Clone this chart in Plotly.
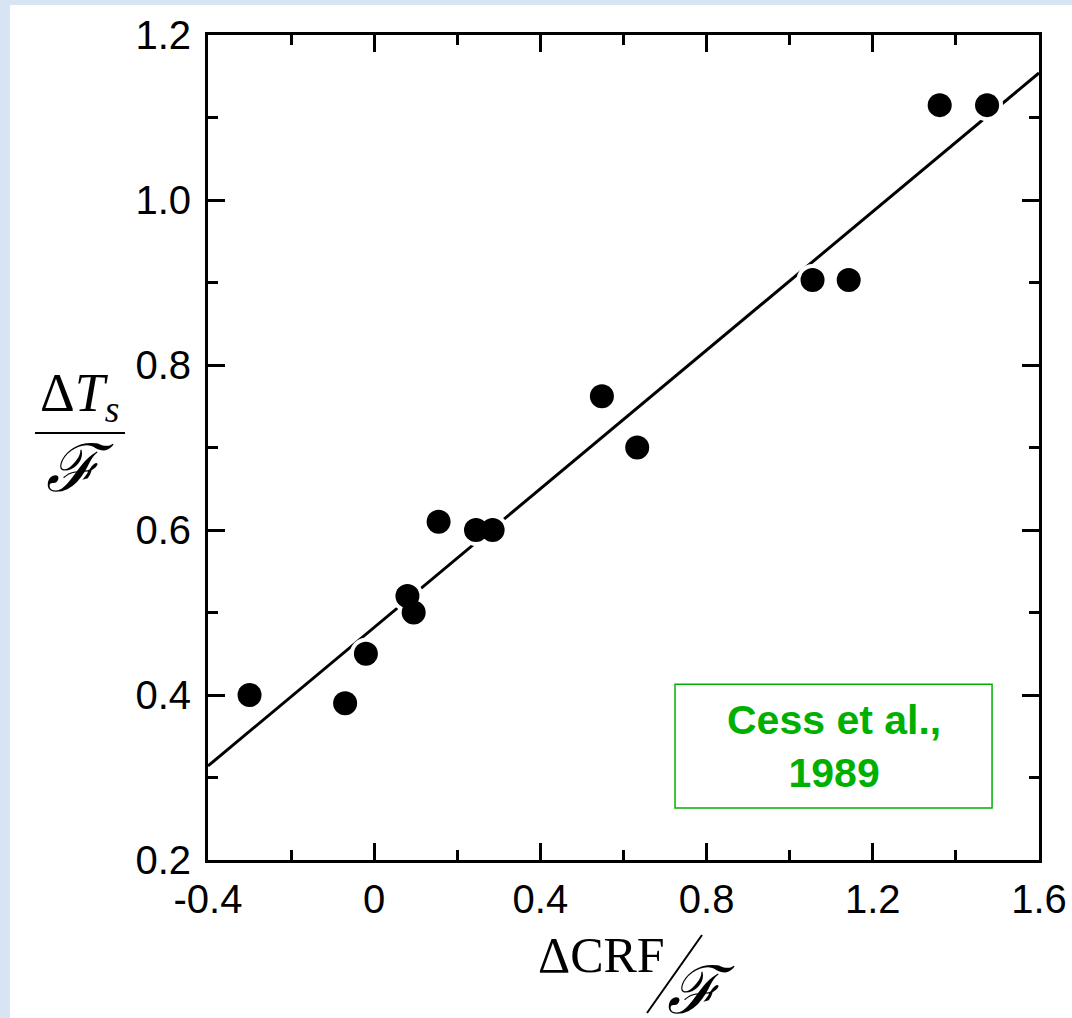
import plotly.graph_objects as go

# ---- data ----
crf_x = [-0.30, -0.07, -0.02, 0.08, 0.095, 0.155, 0.245, 0.285, 0.548, 0.633, 1.055, 1.142, 1.361, 1.475]
dts_y = [0.40, 0.39, 0.45, 0.52, 0.50, 0.61, 0.60, 0.60, 0.762, 0.70, 0.903, 0.903, 1.115, 1.115]

fit_x = [-0.4, 1.6]
fit_y = [0.314, 1.154]

x_ticks = [-0.4, 0, 0.4, 0.8, 1.2, 1.6]
x_ticktext = ["-0.4", "0", "0.4", "0.8", "1.2", "1.6"]
x_minor = [-0.2, 0.2, 0.6, 1.0, 1.4]
y_ticks = [0.2, 0.4, 0.6, 0.8, 1.0, 1.2]
y_ticktext = ["0.2", "0.4", "0.6", "0.8", "1.0", "1.2"]
y_minor = [0.3, 0.5, 0.7, 0.9, 1.1]

source_text = "Cess et al.,<br>1989"

# ---- layout geometry (pixels) ----
W, H = 1072, 1018
L, R, T, B = 208, 33, 35, 158
PW, PH = W - L - R, H - T - B


def px(x):
    return (x - L) / PW


def py(y):
    return (H - B - y) / PH


fig = go.Figure()

fig.add_trace(go.Scatter(x=fit_x, y=fit_y, mode="lines",
                         line=dict(color="black", width=3), hoverinfo="skip", showlegend=False))
fig.add_trace(go.Scatter(x=crf_x, y=dts_y, mode="markers",
                         marker=dict(color="white", size=32, line=dict(width=0)),
                         hoverinfo="skip", showlegend=False))
fig.add_trace(go.Scatter(x=crf_x, y=dts_y, mode="markers",
                         marker=dict(color="black", size=24, line=dict(width=0)),
                         showlegend=False))

tickfont = dict(family="Liberation Sans, Arial, sans-serif", size=40, color="black")
axis_common = dict(showgrid=False, zeroline=False, showline=True, linecolor="black", linewidth=3,
                   mirror="ticks", ticks="inside", ticklen=17, tickwidth=2.5, tickcolor="black",
                   tickfont=tickfont)

fig.update_xaxes(range=[-0.4, 1.6], tickmode="array", tickvals=x_ticks, ticktext=x_ticktext,
                 minor=dict(tickmode="array", tickvals=x_minor, ticks="inside", ticklen=10,
                            tickwidth=2.5, tickcolor="black", showgrid=False),
                 ticklabelstandoff=2, **axis_common)
fig.update_yaxes(range=[0.2, 1.2], tickmode="array", tickvals=y_ticks, ticktext=y_ticktext,
                 minor=dict(tickmode="array", tickvals=y_minor, ticks="inside", ticklen=10,
                            tickwidth=2.5, tickcolor="black", showgrid=False),
                 ticklabelstandoff=6, **axis_common)

shapes = [
    # white page over light-blue backdrop
    dict(type="rect", xref="paper", yref="paper", x0=px(10), x1=px(W + 5), y0=py(H + 5), y1=py(5),
         fillcolor="white", line=dict(width=0), layer="below"),
    # source box
    dict(type="rect", xref="x", yref="y", x0=0.724, x1=1.487, y0=0.263, y1=0.413,
         line=dict(color="#00b000", width=1.5), fillcolor="white"),
    # y-title fraction bar
    dict(type="line", xref="paper", yref="paper", x0=px(35), x1=px(125), y0=py(433), y1=py(433),
         line=dict(color="black", width=2)),
    # x-title slash
    dict(type="line", xref="paper", yref="paper", x0=px(647), x1=px(702), y0=py(1013), y1=py(935),
         line=dict(color="black", width=2)),
]

serif = "Liberation Serif, Times New Roman, DejaVu Serif, serif"
annotations = [
    dict(text=source_text, xref="x", yref="y", x=(0.724 + 1.487) / 2, y=(0.263 + 0.413) / 2,
         showarrow=False, font=dict(family="Liberation Sans, Arial, sans-serif", size=41,
                                    color="#00b000", weight="bold"), align="center"),
    dict(text="Δ<i>T</i><sub><i>s</i></sub>", xref="paper", yref="paper", x=px(38), y=py(396),
         xanchor="left", yanchor="middle",
         showarrow=False, font=dict(family=serif, size=54, color="black")),
    dict(text="<i>ℱ</i>", xref="paper", yref="paper", x=px(80), y=py(468),
         xanchor="center", yanchor="middle",
         showarrow=False, font=dict(family=serif, size=66, color="black")),
    dict(text="ΔCRF", xref="paper", yref="paper", x=px(601), y=py(955),
         xanchor="center", yanchor="middle",
         showarrow=False, font=dict(family=serif, size=50, color="black")),
    dict(text="<i>ℱ</i>", xref="paper", yref="paper", x=px(701), y=py(991),
         xanchor="center", yanchor="middle",
         showarrow=False, font=dict(family=serif, size=66, color="black")),
]

fig.update_layout(width=W, height=H, margin=dict(l=L, r=R, t=T, b=B, autoexpand=False),
                  paper_bgcolor="#d6e4f4", plot_bgcolor="white",
                  shapes=shapes, annotations=annotations, showlegend=False)

fig.write_html("out.html", config={"displayModeBar": False},
               post_script="document.body.style.margin='0px';")
